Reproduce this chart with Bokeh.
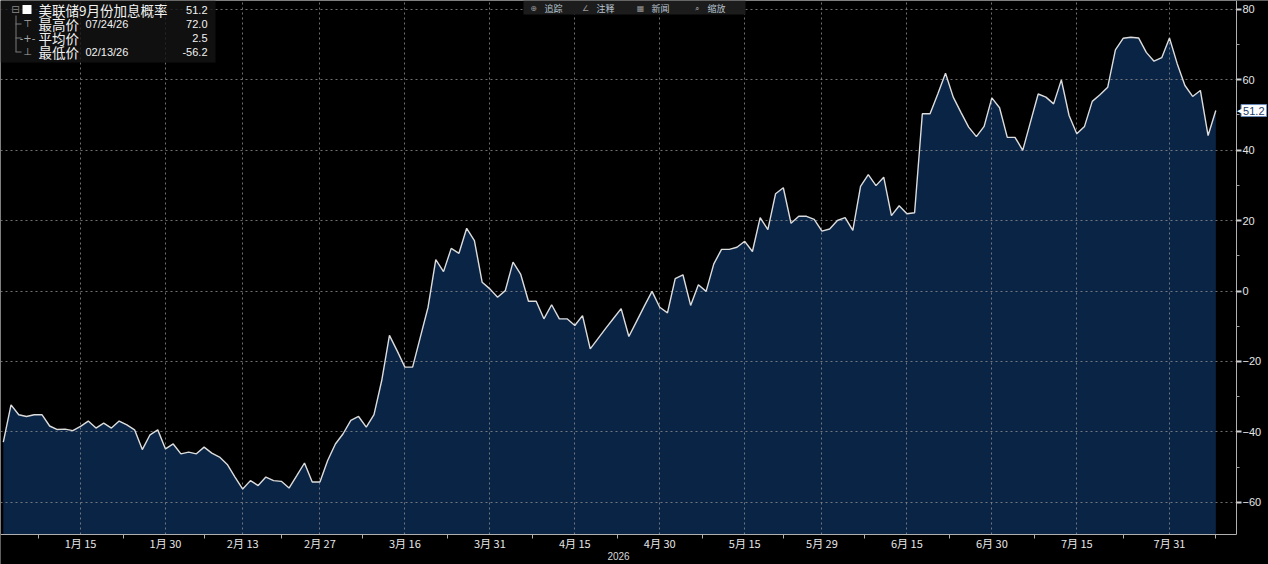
import numpy as np
import pandas as pd
from bokeh.plotting import figure
from bokeh.models import FixedTicker, Label, BoxAnnotation, Range1d
from bokeh.embed import file_html
from bokeh.resources import INLINE

# ---------------- data ----------------
values = [
    -42.9, -32.3, -35.1, -35.6, -35.1, -35.1, -38.3, -39.3, -39.2, -39.6,
    -38.4, -36.9, -38.9, -37.5, -38.9, -36.9, -38.0, -39.4, -45.0, -40.8,
    -39.4, -44.8, -43.4, -46.2, -45.7, -46.2, -44.3, -46.0, -47.1, -49.2,
    -52.8, -56.2, -53.8, -55.2, -52.8, -53.8, -54.0, -55.9, -52.4, -48.8,
    -54.2, -54.2, -48.1, -43.4, -40.5, -36.7, -35.6, -38.6, -35.1, -25.4,
    -12.6, -17.0, -21.6, -21.6, -13.1, -4.6, 8.9, 5.5, 12.1, 10.7,
    17.8, 14.3, 2.5, 0.6, -1.8, 0.1, 8.2, 4.7, -2.9, -2.9,
    -7.9, -3.9, -7.9, -7.9, -9.8, -7.0, -16.4, -13.5, -10.6, -7.8,
    -5.0, -12.9, -8.6, -4.3, -0.1, -4.6, -6.2, 3.5, 4.6, -4.1,
    1.8, -0.1, 7.7, 11.8, 11.8, 12.4, 14.1, 11.2, 20.8, 17.4,
    27.6, 29.3, 19.2, 21.2, 21.2, 20.3, 17.0, 17.6, 20.0, 20.8,
    17.2, 29.7, 33.0, 29.9, 32.3, 21.4, 24.2, 21.9, 22.2, 50.3,
    50.3, 55.9, 61.8, 55.0, 50.7, 46.5, 43.8, 46.7, 54.8, 52.0,
    43.6, 43.6, 39.9, 47.9, 55.9, 55.0, 53.1, 59.9, 49.8, 44.6,
    46.7, 53.8, 55.7, 57.8, 68.4, 71.7, 72.0, 71.8, 67.7, 65.2,
    66.2, 71.8, 64.5, 58.3, 55.2, 56.9, 44.1, 51.2,
]
start_date = "2026-01-01"
tick_dates = ["2026-01-15", "2026-01-30", "2026-02-13", "2026-02-27", "2026-03-16",
              "2026-03-31", "2026-04-15", "2026-04-30", "2026-05-15", "2026-05-29",
              "2026-06-15", "2026-06-30", "2026-07-15", "2026-07-31"]
tick_labels = ["1月 15", "1月 30", "2月 13", "2月 27", "3月 16", "3月 31", "4月 15",
               "4月 30", "5月 15", "5月 29", "6月 15", "6月 30", "7月 15", "7月 31"]
year_label = "2026"
y_ticks = [-60, -40, -20, 0, 20, 40, 60, 80]
y_minor = [-50, -30, -10, 10, 30, 50, 70]

series_name = "美联储9月份加息概率"
last_value = "51.2"
legend_names = ["最高价", "平均价", "最低价"]
legend_dates = ["07/24/26", "", "02/13/26"]
legend_values = ["72.0", "2.5", "-56.2"]
legend_marks = ["⊤", "-+-", "⊥"]
toolbar_icons = ["⊕", "∠", "▦", "⌕"]
toolbar_items = ["追踪", "注释", "新闻", "缩放"]

# ---------------- derived positions ----------------
dates = pd.bdate_range(start_date, periods=len(values))
idx = np.arange(len(values))
tick_idx = [int(dates.get_loc(pd.Timestamp(d))) for d in tick_dates]
mids = [(a + b) / 2 for a, b in zip(tick_idx[:-1], tick_idx[1:])]
minor_x = ([tick_idx[0] - (tick_idx[1] - tick_idx[0]) / 2] + mids +
           [tick_idx[-1] + (tick_idx[-1] - tick_idx[-2]) / 2])

# ---------------- layout / scale constants ----------------
W, H = 1268, 564
PX_X, OFF_X = 7.723, 2.8          # px per business day, px offset of first day
PX_Y, ZERO_Y = 3.5245, 290.5      # px per unit, canvas y of 0
X0 = -OFF_X / PX_X
X1 = X0 + W / PX_X
Y1 = ZERO_Y / PX_Y
Y0 = (ZERO_Y - H) / PX_Y
AX_X = (1236 - OFF_X) / PX_X      # location of the right axis line
AX_Y = (ZERO_Y - 534) / PX_Y      # location of the bottom axis line

CJK = "Noto Sans CJK SC"
LAT = "Liberation Sans"

p = figure(width=W, height=H,
           x_range=Range1d(X0, X1), y_range=Range1d(Y0, Y1),
           y_axis_location="right", output_backend="svg", toolbar_location=None,
           background_fill_color="#000000", border_fill_color="#000000",
           outline_line_color=None,
           min_border_left=0, min_border_top=0, min_border_right=0, min_border_bottom=0)

area = p.varea(x=idx, y1=np.full(len(values), AX_Y), y2=values,
               fill_color="#0a2446", fill_alpha=1.0)
area.level = "image"
ln = p.line(idx, values, line_color="#dcdcdc", line_width=1.4)

# cover grid lines beyond the axes
p.add_layout(BoxAnnotation(left=AX_X, fill_color="#000000", fill_alpha=1.0,
                           line_color=None, level="glyph"))
p.add_layout(BoxAnnotation(top=AX_Y, fill_color="#000000", fill_alpha=1.0,
                           line_color=None, level="glyph"))

# axes
xa = p.xaxis[0]
xa.fixed_location = AX_Y
xa.bounds = (X0, AX_X)
xa.ticker = FixedTicker(ticks=tick_idx, minor_ticks=minor_x)
xa.major_label_overrides = {t: lab for t, lab in zip(tick_idx, tick_labels)}
xa.major_tick_out = 0
xa.major_tick_in = 0
xa.minor_tick_out = 4
xa.minor_tick_in = 0
xa.axis_line_color = "#b0b0b0"
xa.minor_tick_line_color = "#b0b0b0"
xa.major_label_text_color = "#e6e6e6"
xa.major_label_text_font = CJK
xa.major_label_text_font_size = "11px"
xa.major_label_standoff = -4
xa.axis_label = year_label
xa.axis_label_text_font = LAT
xa.axis_label_text_font_style = "normal"
xa.axis_label_text_font_size = "10px"
xa.axis_label_text_color = "#d8d8d8"
xa.axis_label_standoff = -2

ya = p.yaxis[0]
ya.fixed_location = AX_X
ya.bounds = (AX_Y, Y1)
ya.ticker = FixedTicker(ticks=y_ticks, minor_ticks=y_minor)
ya.major_tick_out = 5
ya.major_tick_in = 0
ya.minor_tick_out = 3
ya.minor_tick_in = 0
ya.axis_line_color = "#b0b0b0"
ya.major_tick_line_color = "#d0d0d0"
ya.major_tick_line_width = 2
ya.minor_tick_line_color = "#a0a0a0"
ya.major_label_text_color = "#e6e6e6"
ya.major_label_text_font = LAT
ya.major_label_text_font_size = "11px"
ya.major_label_text_align = "left"
ya.major_label_standoff = 1

for g in (p.xgrid[0], p.ygrid[0]):
    g.grid_line_color = "#8c8c8c"
    g.grid_line_dash = "2 3"
    g.grid_line_alpha = 0.8


def cbox(l, r, t, b, color, alpha=1.0):
    p.add_layout(BoxAnnotation(left=l, right=r, top=t, bottom=b,
                               left_units="canvas", right_units="canvas",
                               top_units="canvas", bottom_units="canvas",
                               fill_color=color, fill_alpha=alpha,
                               line_color=None, level="annotation"))


def ctext(x, y, txt, color="#f2f2f2", size="12px", font=CJK, align="left"):
    p.add_layout(Label(x=x, y=y, x_units="canvas", y_units="canvas", text=txt,
                       text_color=color, text_font_size=size, text_font=font,
                       text_align=align, text_baseline="middle", level="annotation"))


# legend box (top-left)
rows = [9, 23, 37, 51]
cbox(0, 215, 0, 62, "#141414", 0.8)
ctext(15, rows[0], "⊟", color="#8a8a8a", size="10px", font="DejaVu Sans", align="center")
cbox(22, 31, rows[0] - 4.5, rows[0] + 4.5, "#ffffff")
ctext(38, rows[0], series_name, size="13.5px")
ctext(207, rows[0], last_value, size="11px", font=LAT, align="right")
cbox(15, 16, rows[0] + 6, rows[3] + 0.5, "#7a7a7a")
for k, r in enumerate(rows[1:]):
    cbox(15, 21, r, r + 1, "#7a7a7a")
    ctext(27, r, legend_marks[k], color="#a8a8a8", size="10px", font="DejaVu Sans", align="center")
    ctext(38, r, legend_names[k], size="13.5px")
    if legend_dates[k]:
        ctext(85, r, legend_dates[k], size="11px", font=LAT)
    ctext(207, r, legend_values[k], size="11px", font=LAT, align="right")

# top toolbar strip
cbox(523, 745, 0, 14, "#1c1c1c")
tb_x = [533, 585, 640, 696]
for ix, (ic, it) in enumerate(zip(toolbar_icons, toolbar_items)):
    ctext(tb_x[ix], 7.5, ic, color="#9a9a9a", size="8px", font="DejaVu Sans", align="center")
    ctext(tb_x[ix] + 11, 7.5, it, color="#b8c4d0", size="9px")

# last value tag on the right axis
p.add_layout(Label(x=1266, y=values[-1], x_units="canvas", y_units="data", text=last_value,
                   text_align="right", text_baseline="middle", text_color="#1b3c6b",
                   text_font=LAT, text_font_size="11px",
                   background_fill_color="#ffffff", border_line_color="#6d8fbf",
                   padding=2, level="annotation"))
p.add_layout(Label(x=1242, y=values[-1], x_units="canvas", y_units="data", text="◀",
                   text_align="right", text_baseline="middle", text_color="#ffffff",
                   text_font="DejaVu Sans", text_font_size="7px", level="annotation"))

open("out.html", "w").write(file_html(p, INLINE))
